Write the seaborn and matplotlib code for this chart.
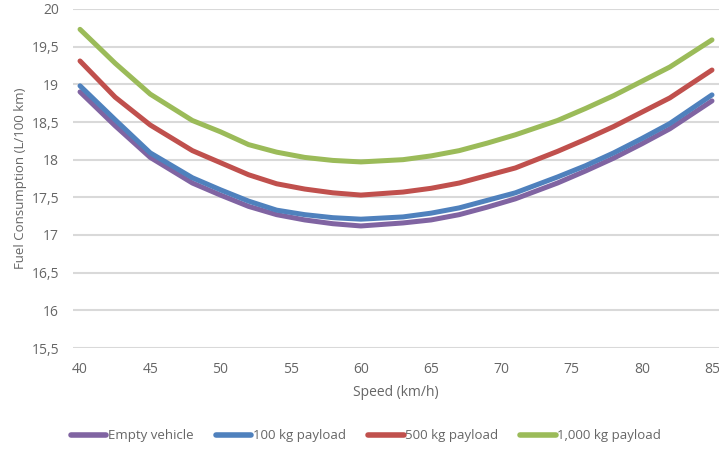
import pandas as pd
import numpy as np
import matplotlib
matplotlib.use('Agg')
import matplotlib.pyplot as plt
import seaborn as sns

# values
speed = [40, 42.5, 45, 48, 50, 52, 54, 56, 58, 60, 63, 65, 67, 69, 71, 74, 76, 78, 80, 82, 85]
empty = [18.90, 18.45, 18.03, 17.69, 17.53, 17.38, 17.27, 17.20, 17.15, 17.12, 17.16, 17.20, 17.27, 17.37, 17.48, 17.69, 17.85, 18.02, 18.21, 18.41, 18.78]
kg100 = [18.98, 18.53, 18.09, 17.76, 17.60, 17.45, 17.33, 17.27, 17.23, 17.21, 17.24, 17.29, 17.36, 17.46, 17.56, 17.77, 17.92, 18.09, 18.28, 18.48, 18.86]
kg500 = [19.31, 18.83, 18.46, 18.12, 17.96, 17.80, 17.68, 17.61, 17.56, 17.53, 17.57, 17.62, 17.69, 17.79, 17.89, 18.11, 18.27, 18.44, 18.63, 18.82, 19.19]
kg1000 = [19.73, 19.28, 18.87, 18.52, 18.37, 18.20, 18.10, 18.03, 17.99, 17.97, 18.00, 18.05, 18.12, 18.22, 18.33, 18.52, 18.68, 18.85, 19.04, 19.23, 19.59]
series_names = ['Empty vehicle', '100 kg payload', '500 kg payload', '1,000 kg payload']
colors = ['#8064A2', '#4F81BD', '#C0504D', '#9BBB59']
x_ticks = [40, 45, 50, 55, 60, 65, 70, 75, 80, 85]
y_ticks = [15.5, 16, 16.5, 17, 17.5, 18, 18.5, 19, 19.5, 20]

# long-form table for seaborn
rows = []
for name, vals in zip(series_names, [empty, kg100, kg500, kg1000]):
    for s, v in zip(speed, vals):
        rows.append({'Speed': s, 'Fuel': v, 'Series': name})
df = pd.DataFrame(rows)

sns.set_style('white')
plt.rcParams['font.family'] = ['Open Sans', 'DejaVu Sans']

fig = plt.figure(figsize=(7.19, 4.49), dpi=100)
ax = fig.add_axes([73/719, 1 - 348/449, 1 - 73/719, (348 - 9)/449])

sns.lineplot(data=df, x='Speed', y='Fuel', hue='Series', hue_order=series_names,
             palette=colors, linewidth=3.6, ax=ax, legend=False,
             solid_capstyle='round', solid_joinstyle='round', zorder=3)

ax.set_xlim(39.5, 85.5)
ax.set_ylim(15.5, 20)
ax.set_xticks(x_ticks)
ax.set_yticks(y_ticks)
ax.set_yticklabels([('%g' % t).replace('.', ',') for t in y_ticks])
ax.grid(axis='y', color='#D9D9D9', linewidth=1.5, zorder=0)
ax.grid(axis='x', visible=False)
for sp in ax.spines.values():
    sp.set_visible(False)
ax.tick_params(axis='both', length=0, labelsize=10, colors='#666666')
ax.tick_params(axis='x', pad=10)
ax.tick_params(axis='y', pad=10)
ax.set_xlabel('Speed (km/h)', fontsize=10, color='#666666', labelpad=6)
ax.set_ylabel('Fuel Consumption (L/100 km)', fontsize=9.5, color='#666666', labelpad=3)

handles = [plt.Line2D([], [], color=c, linewidth=4, solid_capstyle='round') for c in colors]
fig.legend(handles, series_names, loc='center', bbox_to_anchor=(0.509, 1 - 436/449),
           ncol=4, frameon=False, fontsize=9.5, handlelength=2.7, handletextpad=0.1,
           columnspacing=1.7, labelcolor='#666666')

fig.savefig('out.png', dpi=100)
